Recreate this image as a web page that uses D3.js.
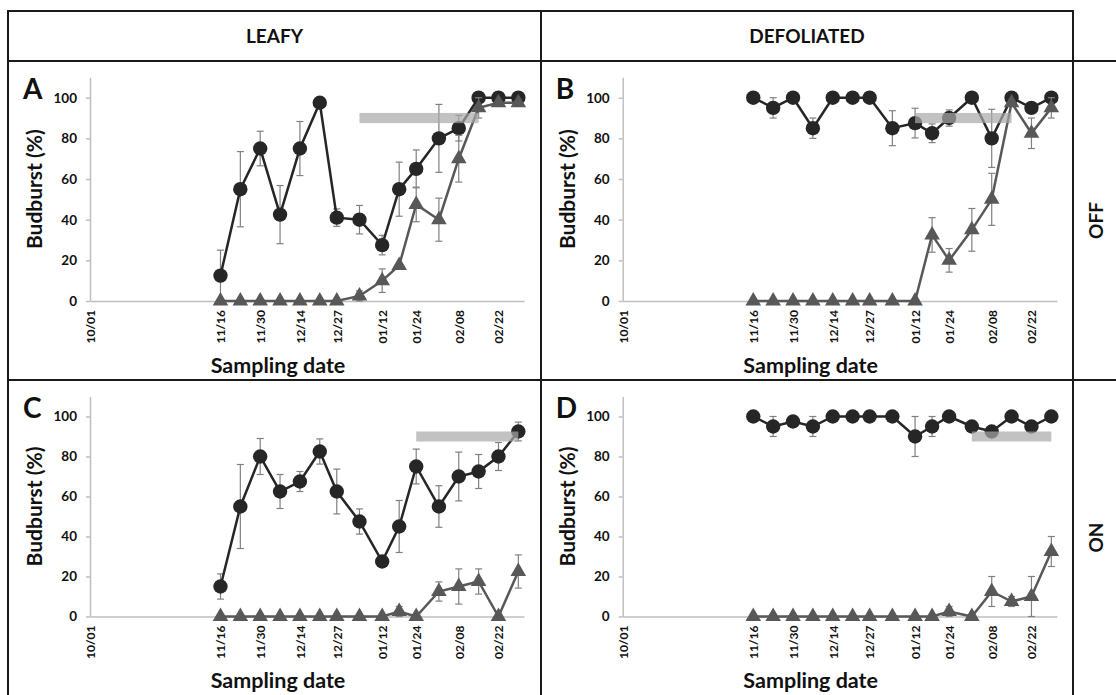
<!DOCTYPE html>
<html>
<head>
<meta charset="utf-8">
<script src="https://cdn.jsdelivr.net/npm/d3@7"></script>
<style>
  body { margin: 0; background: #fff; }
  svg text { font-family: Lato, "Open Sans", sans-serif; font-weight: bold; fill: #111; }
</style>
</head>
<body>
<svg width="1116" height="695"></svg>
<script>

// sampling dates, same for all four panels
var sampleDates = ["2014-11-16", "2014-11-23", "2014-11-30", "2014-12-07", "2014-12-14", "2014-12-21",
  "2014-12-27", "2015-01-04", "2015-01-12", "2015-01-18", "2015-01-24", "2015-02-01",
  "2015-02-08", "2015-02-15", "2015-02-22", "2015-03-01"];

var tickDates = ["2014-10-01", "2014-11-16", "2014-11-30", "2014-12-14", "2014-12-27",
  "2015-01-12", "2015-01-24", "2015-02-08", "2015-02-22"];
var tickLabels = ["10/01", "11/16", "11/30", "12/14", "12/27", "01/12", "01/24", "02/08", "02/22"];
var yTicks = [0, 20, 40, 60, 80, 100];

// A: leafy / OFF
var leafyOffCircle    = [12.5, 55, 75, 42.5, 75, 97.5, 41, 40, 27.5, 55, 65, 80, 85, 100, 100, 100];
var leafyOffCircleErr = [12.5, 18.5, 8.5, 14.3, 13.3, 0, 4.3, 7, 4.8, 13.3, 9.3, 16.7, 6.3, 0, 0, 0];
var leafyOffTri       = [0, 0, 0, 0, 0, 0, 0, 2.5, 10, 17.5, 47.5, 40, 70, 95, 97.5, 97.5];
var leafyOffTriErr    = [0, 0, 0, 0, 0, 0, 0, 2.5, 5.8, 0, 8.5, 10.6, 11.5, 5, 0, 0];

// B: defoliated / OFF
var defolOffCircle    = [100, 95, 100, 85, 100, 100, 100, 85, 87.5, 82.5, 90, 100, 80, 100, 95, 100];
var defolOffCircleErr = [0, 5, 0, 5, 0, 0, 0, 8.6, 7.3, 4.6, 4, 0, 14.3, 0, 0, 0];
var defolOffTri       = [0, 0, 0, 0, 0, 0, 0, 0, 0, 32.5, 20, 35, 50, 97.5, 82.5, 95];
var defolOffTriErr    = [0, 0, 0, 0, 0, 0, 0, 0, 0, 8.5, 5.8, 10.5, 12.8, 0, 7.5, 5];

// C: leafy / ON
var leafyOnCircle     = [15, 55, 80, 62.5, 67.5, 82.5, 62.5, 47.5, 27.5, 45, 75, 55, 70, 72.5, 80, 92.5];
var leafyOnCircleErr  = [6.3, 21, 9, 8.5, 5, 6.3, 11.2, 6.3, 0, 13, 8.7, 10.4, 12.2, 8.5, 7, 4.7];
var leafyOnTri        = [0, 0, 0, 0, 0, 0, 0, 0, 0, 2.5, 0, 12.5, 15, 17.5, 0, 22.5];
var leafyOnTriErr     = [0, 0, 0, 0, 0, 0, 0, 0, 0, 2.5, 0, 4.8, 8.8, 6.3, 0, 8.3];

// D: defoliated / ON
var defolOnCircle     = [100, 95, 97.5, 95, 100, 100, 100, 100, 90, 95, 100, 95, 92.5, 100, 95, 100];
var defolOnCircleErr  = [0, 5, 0, 5, 0, 0, 0, 0, 10, 5, 0, 0, 0, 0, 0, 0];
var defolOnTri        = [0, 0, 0, 0, 0, 0, 0, 0, 0, 0, 2.5, 0, 12.5, 7.5, 10, 32.5];
var defolOnTriErr     = [0, 0, 0, 0, 0, 0, 0, 0, 0, 0, 2.5, 0, 7.5, 2.5, 10, 7.5];

// grey bands (start, end) drawn at 87.5-92.5 %
var bandA = ["2015-01-04", "2015-02-15"];
var bandB = ["2015-01-12", "2015-02-15"];
var bandC = ["2015-01-24", "2015-03-01"];
var bandD = ["2015-02-01", "2015-03-01"];
var bandLow = 87.5, bandHigh = 92.5;

var colHeaders = ["LEAFY", "DEFOLIATED"];
var rowHeaders = ["OFF", "ON"];

var parse = d3.timeParse("%Y-%m-%d");
var svg = d3.select("svg");

// layout of the grid
var cols = [{x0: 90, x1: 524, cell: [8, 541]}, {x0: 622.7, x1: 1057, cell: [541, 1073]}];
var rows = [{y0: 301, y100: 97.7, cell: [61, 380]}, {y0: 616.5, y100: 416.5, cell: [380, 695]}];

var panels = [
  {letter: "A", col: 0, row: 0, circ: leafyOffCircle, circErr: leafyOffCircleErr, tri: leafyOffTri, triErr: leafyOffTriErr, band: bandA},
  {letter: "B", col: 1, row: 0, circ: defolOffCircle, circErr: defolOffCircleErr, tri: defolOffTri, triErr: defolOffTriErr, band: bandB},
  {letter: "C", col: 0, row: 1, circ: leafyOnCircle, circErr: leafyOnCircleErr, tri: leafyOnTri, triErr: leafyOnTriErr, band: bandC},
  {letter: "D", col: 1, row: 1, circ: defolOnCircle, circErr: defolOnCircleErr, tri: defolOnTri, triErr: defolOnTriErr, band: bandD}
];

function drawSeries(g, x, y, vals, errs, color, shape) {
  var pts = vals.map(function(v, i) { return {date: parse(sampleDates[i]), v: v, e: errs[i]}; });

  // error bars
  var eb = g.append("g").attr("stroke", "#808080").attr("stroke-width", 1.2);
  pts.filter(d => d.e > 0).forEach(function(d) {
    var cx = x(d.date), lo = y(Math.max(0, d.v - d.e)), hi = y(d.v + d.e);
    eb.append("line").attr("x1", cx).attr("x2", cx).attr("y1", lo).attr("y2", hi);
    eb.append("line").attr("x1", cx - 3.5).attr("x2", cx + 3.5).attr("y1", lo).attr("y2", lo);
    eb.append("line").attr("x1", cx - 3.5).attr("x2", cx + 3.5).attr("y1", hi).attr("y2", hi);
  });

  g.append("path")
    .datum(pts)
    .attr("fill", "none")
    .attr("stroke", color)
    .attr("stroke-width", 2.5)
    .attr("d", d3.line().x(d => x(d.date)).y(d => y(d.v)));

  if (shape == "circle") {
    g.selectAll(null).data(pts).enter().append("circle")
      .attr("cx", d => x(d.date))
      .attr("cy", d => y(d.v))
      .attr("r", 7.2)
      .attr("fill", color);
  } else {
    g.selectAll(null).data(pts).enter().append("path")
      .attr("transform", d => "translate(" + x(d.date) + "," + y(d.v) + ")")
      .attr("d", d3.symbol().type(d3.symbolTriangle).size(105))
      .attr("fill", color);
  }
}

panels.forEach(function(p) {
  var c = cols[p.col], r = rows[p.row];
  var g = svg.append("g");

  var x = d3.scaleTime()
    .domain([parse("2014-10-01"), parse("2015-03-03")])
    .range([c.x0, c.x1]);
  var unit = (r.y0 - r.y100) / 100;
  var y = d3.scaleLinear().domain([0, 110]).range([r.y0, r.y0 - 110 * unit]);

  // y axis
  var ya = g.append("g")
    .attr("transform", "translate(" + c.x0 + ",0)")
    .call(d3.axisLeft(y).tickValues(yTicks).tickSize(4).tickSizeOuter(0).tickPadding(9));
  ya.selectAll("path, line").attr("stroke", "#bfbfbf").attr("stroke-width", 1.5);
  ya.selectAll("text").style("font-size", "13.5px");

  // x axis
  var xa = g.append("g")
    .attr("transform", "translate(0," + r.y0 + ")")
    .call(d3.axisBottom(x).tickValues(tickDates.map(parse)).tickSize(0).tickSizeOuter(0)
      .tickFormat((d, i) => tickLabels[i]));
  xa.select(".domain").attr("stroke", "#bfbfbf").attr("stroke-width", 1.5);
  xa.selectAll("text")
    .style("font-size", "12px")
    .attr("transform", "rotate(-90)")
    .attr("text-anchor", "end")
    .attr("x", -9)
    .attr("y", 0)
    .attr("dy", "0.36em");

  drawSeries(g, x, y, p.circ, p.circErr, "#262626", "circle");
  drawSeries(g, x, y, p.tri, p.triErr, "#585858", "triangle");

  // grey period band, semi transparent over the markers
  g.append("rect")
    .attr("x", x(parse(p.band[0])))
    .attr("width", x(parse(p.band[1])) - x(parse(p.band[0])))
    .attr("y", y(bandHigh))
    .attr("height", y(bandLow) - y(bandHigh))
    .attr("fill", "#a8a8a8")
    .attr("opacity", 0.7);

  // panel letter
  g.append("text")
    .attr("x", c.x0 - 67)
    .attr("y", r.y100 + 1)
    .style("font-size", "28px")
    .text(p.letter);

  // axis titles
  g.append("text")
    .attr("transform", "translate(" + (c.x0 - 55.5) + "," + ((r.y0 + y(110)) / 2) + ") rotate(-90)")
    .attr("text-anchor", "middle")
    .attr("dy", "0.35em")
    .style("font-size", "21px")
    .text("Budburst (%)");

  g.append("text")
    .attr("x", c.x0 + 188)
    .attr("y", r.y0 + 64)
    .attr("text-anchor", "middle")
    .attr("dy", "0.35em")
    .style("font-size", "21.5px")
    .text("Sampling date");
});

// table frame
var frame = svg.append("g").attr("stroke", "#1a1a1a").attr("stroke-width", 2).attr("fill", "none");
frame.append("line").attr("x1", 8).attr("x2", 1073).attr("y1", 11).attr("y2", 11);
frame.append("line").attr("x1", 8).attr("x2", 1116).attr("y1", 61).attr("y2", 61);
frame.append("line").attr("x1", 8).attr("x2", 1116).attr("y1", 380).attr("y2", 380);
frame.append("line").attr("x1", 8).attr("x2", 8).attr("y1", 10).attr("y2", 695);
frame.append("line").attr("x1", 541).attr("x2", 541).attr("y1", 10).attr("y2", 695);
frame.append("line").attr("x1", 1073).attr("x2", 1073).attr("y1", 10).attr("y2", 695);

colHeaders.forEach(function(h, i) {
  svg.append("text")
    .attr("x", (cols[i].cell[0] + cols[i].cell[1]) / 2)
    .attr("y", 36)
    .attr("text-anchor", "middle")
    .attr("dy", "0.35em")
    .style("font-size", "19px")
    .text(h);
});

rowHeaders.forEach(function(h, i) {
  svg.append("text")
    .attr("transform", "translate(1096," + (rows[i].cell[0] + rows[i].cell[1]) / 2 + ") rotate(-90)")
    .attr("text-anchor", "middle")
    .attr("dy", "0.35em")
    .style("font-size", "19px")
    .text(h);
});

</script>
</body>
</html>
